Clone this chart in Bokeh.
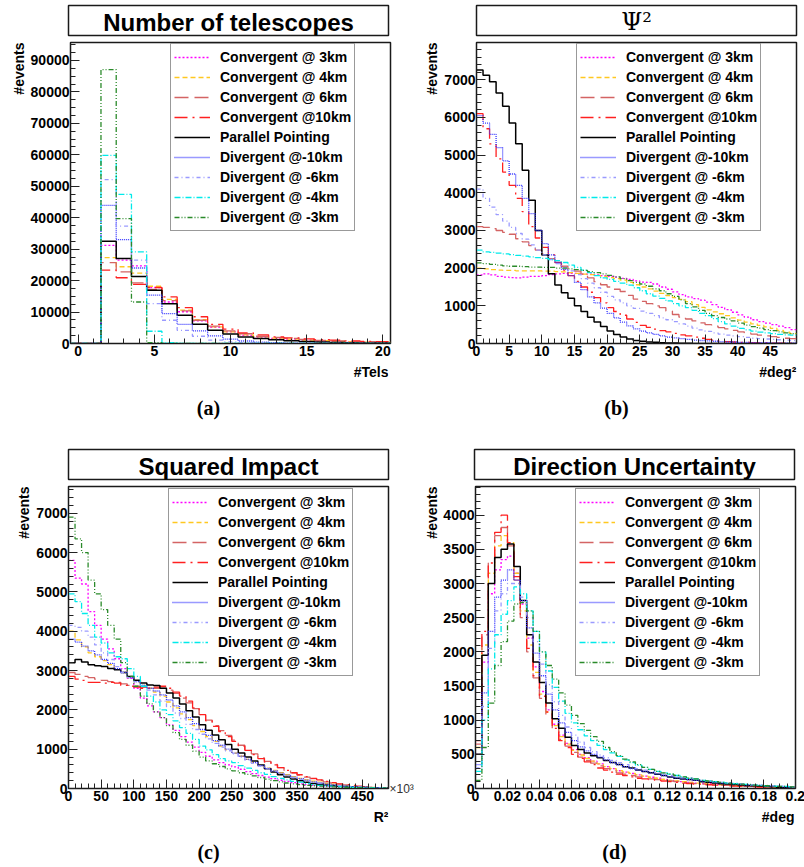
import numpy as np
from bokeh.plotting import figure
from bokeh.layouts import row, column
from bokeh.models import (Range1d, SingleIntervalTicker, BasicTickFormatter, CustomJSTickFormatter,
                          LinearAxis, FixedTicker, Plot)
from bokeh.core.properties import value
from bokeh.embed import file_html
from bokeh.resources import INLINE

SANS = "Liberation Sans"
SERIF = "Liberation Serif"
K = 1000.0  # all series values below are in thousands of events

series_labels = ["Convergent @ 3km", "Convergent @ 4km", "Convergent @ 6km", "Convergent @10km",
                 "Parallel Pointing", "Divergent @-10km", "Divergent @ -6km", "Divergent @ -4km",
                 "Divergent @ -3km"]
series_colors = ["#ff00ff", "#ffc820", "#d46464", "#ff2020", "#000000", "#3434ff", "#9a9aff",
                 "#00eaea", "#2a8a2a"]
series_dashes = ["2 2", "5 3", "14 6", "13 5 2 5", "solid", "1 1", "4 3 1 3", "6 2 1 2", "5 2 1 2 1 2"]
series_widths = [1.3, 1.3, 1.3, 1.3, 1.5, 1.3, 1.3, 1.3, 1.3]

titles = ["Number of telescopes", "\u03a8\u00b2", "Squared Impact", "Direction Uncertainty"]
x_labels = ["#Tels", "#deg\u00b2", "R\u00b2", "#deg"]
y_label = "#events"
captions = ["(a)", "(b)", "(c)", "(d)"]
c_x_exponent = "\u00d710\u00b3"

# ---------------- (a) Number of telescopes: bins of 1, first bin centred at 0 ----------------
a_x0, a_bw = -0.5, 1.0
a_conv3 = [0, 0, 31.2, 26.5, 24.7, 17.8, 13.2, 10.1, 7.2, 5.1, 3.7, 2.6, 2.0, 1.6, 1.3, 1.05, 0.8, 0.6, 0.5, 0.4, 0.3]
a_conv4 = [0, 0, 27.3, 24.4, 22.4, 18.2, 14.0, 10.6, 7.6, 5.3, 3.7, 2.75, 2.1, 1.7, 1.4, 1.1, 0.9, 0.7, 0.55, 0.45, 0.35]
a_conv6 = [0, 0, 25.7, 22.8, 19.3, 17.2, 13.6, 10.4, 7.4, 5.5, 4.0, 3.1, 2.3, 1.9, 1.6, 1.3, 1.0, 0.8, 0.7, 0.55, 0.45]
a_conv10 = [0, 0, 23.3, 20.9, 18.8, 17.8, 14.8, 11.4, 8.5, 6.1, 4.6, 3.4, 2.75, 2.1, 1.8, 1.5, 1.25, 1.05, 0.85, 0.7, 0.55]
a_par = [0, 0, 32.5, 27.0, 21.3, 16.9, 12.6, 9.0, 6.1, 4.2, 3.0, 2.1, 1.6, 1.2, 0.85, 0.6, 0.45, 0.35, 0.25, 0.18, 0.12]
a_div10 = [0, 0, 43.9, 33.0, 24.0, 15.4, 9.5, 6.1, 4.0, 2.4, 1.4, 0.8, 0.45, 0.25, 0.15, 0.08, 0.05, 0.03, 0.02, 0.01, 0.01]
a_div6 = [0, 0, 52.1, 37.3, 26.5, 12.7, 7.4, 4.2, 2.3, 1.1, 0.5, 0.25, 0.12, 0.06, 0.03, 0.02, 0.01, 0, 0, 0, 0]
a_div4 = [0, 0, 59.8, 47.4, 29.1, 3.9, 0.3, 0.05, 0, 0, 0, 0, 0, 0, 0, 0, 0, 0, 0, 0, 0]
a_div3 = [0, 0, 87.1, 39.7, 13.2, 0.3, 0.02, 0, 0, 0, 0, 0, 0, 0, 0, 0, 0, 0, 0, 0, 0]

# ---------------- (b) Psi^2: bins of 1 deg^2 from 0 ----------------
b_x0, b_bw = 0.0, 1.0
b_conv3 = [1.82, 1.85, 1.82, 1.78, 1.76, 1.75, 1.74, 1.76, 1.78, 1.78, 1.8, 1.83, 1.85, 1.86, 1.86, 1.86, 1.84,
           1.84, 1.82, 1.8, 1.78, 1.76, 1.73, 1.7, 1.66, 1.63, 1.62, 1.58, 1.5, 1.44, 1.37, 1.3, 1.24, 1.19,
           1.15, 1.1, 1.03, 0.96, 0.9, 0.83, 0.76, 0.7, 0.63, 0.58, 0.54, 0.5, 0.46, 0.42, 0.37]
b_conv4 = [2.0, 1.98, 1.96, 1.95, 1.94, 1.94, 1.93, 1.93, 1.93, 1.93, 1.92, 1.92, 1.91, 1.9, 1.88, 1.86, 1.84,
           1.83, 1.81, 1.78, 1.75, 1.72, 1.68, 1.62, 1.56, 1.5, 1.45, 1.39, 1.33, 1.27, 1.22, 1.17, 1.11, 1.03,
           0.96, 0.89, 0.84, 0.79, 0.74, 0.68, 0.62, 0.57, 0.52, 0.48, 0.44, 0.4, 0.35, 0.3, 0.26]
b_conv6 = [3.1, 3.08, 3.05, 3.0, 2.95, 2.9, 2.78, 2.7, 2.6, 2.48, 2.38, 2.25, 2.15, 2.05, 1.98, 1.92, 1.84,
           1.74, 1.64, 1.56, 1.5, 1.44, 1.38, 1.28, 1.18, 1.12, 1.06, 1.0, 0.95, 0.86, 0.77, 0.7, 0.65, 0.6,
           0.55, 0.5, 0.46, 0.42, 0.39, 0.35, 0.31, 0.28, 0.25, 0.22, 0.2, 0.18, 0.16, 0.14, 0.13]
b_conv10 = [6.1, 5.7, 5.3, 4.9, 4.55, 4.2, 3.85, 3.5, 3.1, 2.8, 2.55, 2.35, 2.15, 1.95, 1.8, 1.65, 1.5, 1.36,
            1.22, 1.08, 0.95, 0.85, 0.75, 0.65, 0.56, 0.48, 0.43, 0.38, 0.34, 0.31, 0.27, 0.23, 0.2, 0.17,
            0.14, 0.11, 0.09, 0.07, 0.05, 0.04, 0.03, 0.03, 0.02, 0.02, 0.02, 0.01, 0.01, 0.01, 0.01]
b_par = [7.26, 7.12, 6.95, 6.65, 6.3, 5.85, 5.3, 4.6, 3.8, 3.0, 2.35, 1.85, 1.55, 1.35, 1.2, 1.0, 0.85, 0.7,
         0.57, 0.45, 0.33, 0.24, 0.17, 0.12, 0.08, 0.06, 0.04, 0.03, 0.02, 0.015, 0.01, 0.005, 0.005, 0, 0, 0,
         0, 0, 0, 0, 0, 0, 0, 0, 0, 0, 0, 0, 0]
b_div10 = [6.05, 5.85, 5.55, 5.2, 4.85, 4.5, 4.2, 3.85, 3.45, 3.0, 2.65, 2.35, 2.15, 1.97, 1.8, 1.62, 1.43,
           1.24, 1.08, 0.94, 0.8, 0.68, 0.57, 0.47, 0.39, 0.33, 0.28, 0.24, 0.2, 0.17, 0.15, 0.13, 0.11, 0.09,
           0.08, 0.07, 0.06, 0.05, 0.04, 0.04, 0.03, 0.03, 0.02, 0.02, 0.02, 0.01, 0.01, 0.01, 0.01]
b_div6 = [4.1, 3.85, 3.62, 3.42, 3.25, 3.08, 2.92, 2.77, 2.62, 2.48, 2.35, 2.23, 2.12, 2.02, 1.93, 1.83, 1.72,
          1.6, 1.48, 1.36, 1.25, 1.16, 1.08, 1.0, 0.93, 0.86, 0.8, 0.74, 0.68, 0.63, 0.58, 0.52, 0.46, 0.41,
          0.36, 0.32, 0.28, 0.25, 0.22, 0.2, 0.18, 0.16, 0.14, 0.13, 0.12, 0.11, 0.1, 0.09, 0.08]
b_div4 = [2.48, 2.43, 2.42, 2.4, 2.38, 2.36, 2.34, 2.32, 2.3, 2.28, 2.26, 2.23, 2.2, 2.15, 2.08, 2.02, 1.95,
          1.88, 1.8, 1.74, 1.7, 1.65, 1.6, 1.55, 1.48, 1.4, 1.32, 1.26, 1.2, 1.13, 1.06, 1.0, 0.95, 0.88, 0.8,
          0.74, 0.66, 0.58, 0.52, 0.46, 0.4, 0.36, 0.33, 0.3, 0.28, 0.26, 0.24, 0.23, 0.22]
b_div3 = [2.14, 2.12, 2.1, 2.08, 2.06, 2.05, 2.05, 2.04, 2.03, 2.03, 2.02, 2.02, 2.0, 2.0, 1.98, 1.96, 1.94,
          1.91, 1.88, 1.85, 1.81, 1.77, 1.72, 1.67, 1.62, 1.58, 1.52, 1.45, 1.4, 1.32, 1.25, 1.16, 1.06, 0.97,
          0.88, 0.8, 0.74, 0.69, 0.65, 0.6, 0.54, 0.49, 0.45, 0.41, 0.37, 0.34, 0.31, 0.28, 0.26]

# ---------------- (c) Squared impact: bins of 10 (x10^3) from 0 ----------------
c_x0, c_bw = 0.0, 10.0
c_conv3 = [5.8, 5.35, 5.2, 4.5, 4.15, 3.8, 3.55, 3.3, 3.05, 2.8, 2.55, 2.3, 2.1, 1.95, 1.8, 1.62, 1.48, 1.32,
           1.18, 1.05, 0.92, 0.82, 0.73, 0.66, 0.6, 0.55, 0.49, 0.43, 0.38, 0.33, 0.29, 0.25, 0.21, 0.18, 0.15,
           0.12, 0.1, 0.08, 0.07, 0.06, 0.05, 0.04, 0.03, 0.03, 0.02, 0.02, 0.01, 0.01, 0.01]
c_conv4 = [4.0, 3.78, 3.6, 3.45, 3.35, 3.25, 3.15, 3.05, 2.95, 2.82, 2.72, 2.62, 2.55, 2.45, 2.35, 2.2, 2.05,
           1.9, 1.75, 1.6, 1.45, 1.32, 1.2, 1.08, 0.98, 0.9, 0.82, 0.74, 0.66, 0.58, 0.52, 0.46, 0.4, 0.35,
           0.3, 0.26, 0.22, 0.19, 0.16, 0.13, 0.11, 0.09, 0.07, 0.06, 0.05, 0.04, 0.03, 0.02, 0.02]
c_conv6 = [2.95, 2.9, 2.85, 2.82, 2.78, 2.75, 2.72, 2.7, 2.66, 2.62, 2.6, 2.57, 2.56, 2.55, 2.55, 2.5, 2.42,
           2.3, 2.18, 2.03, 1.88, 1.74, 1.6, 1.47, 1.35, 1.23, 1.1, 0.99, 0.88, 0.78, 0.69, 0.61, 0.53, 0.46,
           0.4, 0.34, 0.29, 0.25, 0.21, 0.17, 0.14, 0.11, 0.09, 0.07, 0.05, 0.04, 0.03, 0.02, 0.02]
c_conv10 = [2.85, 2.78, 2.75, 2.7, 2.7, 2.68, 2.7, 2.68, 2.62, 2.6, 2.58, 2.55, 2.55, 2.58, 2.6, 2.55, 2.45,
            2.35, 2.22, 2.05, 1.88, 1.72, 1.58, 1.45, 1.32, 1.2, 1.08, 0.97, 0.86, 0.76, 0.67, 0.6, 0.53, 0.46,
            0.4, 0.35, 0.3, 0.26, 0.22, 0.18, 0.15, 0.12, 0.1, 0.08, 0.06, 0.04, 0.03, 0.02, 0.02]
c_par = [3.2, 3.28, 3.22, 3.15, 3.12, 3.1, 3.05, 3.02, 2.95, 2.85, 2.75, 2.68, 2.63, 2.62, 2.55, 2.43, 2.3,
         2.15, 1.98, 1.82, 1.62, 1.48, 1.36, 1.24, 1.12, 1.0, 0.9, 0.8, 0.7, 0.6, 0.5, 0.42, 0.35, 0.29, 0.24,
         0.2, 0.16, 0.13, 0.11, 0.09, 0.075, 0.06, 0.05, 0.04, 0.03, 0.025, 0.02, 0.015, 0.01]
c_div10 = [3.8, 3.72, 3.62, 3.5, 3.4, 3.28, 3.18, 3.05, 2.95, 2.82, 2.72, 2.62, 2.55, 2.48, 2.38, 2.25, 2.1,
           1.95, 1.8, 1.65, 1.5, 1.35, 1.22, 1.1, 1.0, 0.9, 0.82, 0.74, 0.66, 0.58, 0.51, 0.45, 0.39, 0.34,
           0.29, 0.25, 0.21, 0.17, 0.14, 0.11, 0.09, 0.07, 0.06, 0.05, 0.04, 0.03, 0.02, 0.02, 0.01]
c_div6 = [4.15, 4.1, 4.0, 3.85, 3.65, 3.45, 3.28, 3.1, 2.95, 2.82, 2.72, 2.62, 2.5, 2.38, 2.22, 2.08, 1.92,
          1.78, 1.63, 1.5, 1.38, 1.26, 1.15, 1.05, 0.96, 0.88, 0.8, 0.72, 0.64, 0.57, 0.5, 0.44, 0.38, 0.33,
          0.28, 0.23, 0.19, 0.16, 0.14, 0.12, 0.1, 0.08, 0.06, 0.05, 0.04, 0.04, 0.03, 0.02, 0.02]
c_div4 = [4.95, 4.75, 4.45, 4.15, 3.85, 3.7, 3.45, 3.35, 3.3, 3.05, 2.85, 2.6, 2.35, 2.2, 2.0, 1.88, 1.72,
          1.55, 1.4, 1.25, 1.08, 0.98, 0.86, 0.76, 0.7, 0.66, 0.58, 0.52, 0.46, 0.4, 0.36, 0.3, 0.26, 0.22,
          0.18, 0.16, 0.13, 0.1, 0.08, 0.07, 0.06, 0.05, 0.04, 0.03, 0.03, 0.02, 0.02, 0.01, 0.01]
c_div3 = [6.9, 6.35, 6.0, 5.3, 4.95, 4.55, 4.15, 3.8, 3.2, 2.85, 2.6, 2.35, 2.15, 1.95, 1.8, 1.6, 1.42, 1.25,
          1.1, 0.95, 0.8, 0.7, 0.63, 0.56, 0.5, 0.45, 0.4, 0.36, 0.32, 0.28, 0.24, 0.2, 0.17, 0.14, 0.12, 0.1,
          0.08, 0.07, 0.06, 0.05, 0.04, 0.03, 0.03, 0.02, 0.02, 0.01, 0.01, 0.01, 0.01]

# ---------------- (d) Direction uncertainty: bins of 0.004 deg from 0 ----------------
d_x0, d_bw = 0.0, 0.004
d_conv3 = [0.5, 1.85, 2.85, 3.2, 3.35, 3.4, 3.15, 2.7, 2.2, 1.78, 1.42, 1.15, 0.94, 0.78, 0.66, 0.57, 0.5, 0.45,
           0.4, 0.36, 0.32, 0.29, 0.26, 0.24, 0.22, 0.2, 0.18, 0.165, 0.15, 0.135, 0.12, 0.11, 0.1, 0.09, 0.08,
           0.075, 0.07, 0.06, 0.055, 0.05, 0.045, 0.04, 0.035, 0.03, 0.03, 0.025, 0.02, 0.02, 0.015, 0.015]
d_conv4 = [0.6, 2.1, 3.15, 3.55, 3.7, 3.6, 3.15, 2.6, 2.1, 1.7, 1.38, 1.12, 0.92, 0.76, 0.65, 0.56, 0.49, 0.44,
           0.4, 0.36, 0.32, 0.29, 0.26, 0.24, 0.22, 0.2, 0.18, 0.165, 0.15, 0.135, 0.12, 0.11, 0.1, 0.09, 0.08,
           0.075, 0.07, 0.06, 0.055, 0.05, 0.045, 0.04, 0.035, 0.03, 0.03, 0.025, 0.02, 0.02, 0.015, 0.015]
d_conv6 = [0.65, 2.25, 3.3, 3.7, 3.82, 3.55, 3.05, 2.5, 2.0, 1.62, 1.32, 1.08, 0.88, 0.72, 0.62, 0.53, 0.46,
           0.41, 0.37, 0.33, 0.29, 0.26, 0.23, 0.21, 0.19, 0.17, 0.155, 0.14, 0.13, 0.12, 0.11, 0.1, 0.09, 0.08,
           0.07, 0.065, 0.06, 0.055, 0.05, 0.045, 0.04, 0.035, 0.03, 0.03, 0.025, 0.02, 0.02, 0.015, 0.015, 0.01]
d_conv10 = [0.7, 2.3, 3.3, 3.75, 4.0, 3.6, 3.1, 2.55, 2.05, 1.65, 1.35, 1.12, 0.88, 0.7, 0.6, 0.5, 0.44, 0.39,
            0.35, 0.3, 0.27, 0.24, 0.21, 0.19, 0.17, 0.15, 0.14, 0.13, 0.12, 0.11, 0.1, 0.09, 0.08, 0.07, 0.065,
            0.06, 0.055, 0.05, 0.045, 0.04, 0.035, 0.03, 0.03, 0.025, 0.02, 0.02, 0.015, 0.015, 0.01, 0.01]
d_par = [0.5, 1.95, 3.0, 3.38, 3.5, 3.58, 3.25, 2.75, 2.25, 1.85, 1.55, 1.25, 1.02, 0.88, 0.75, 0.63, 0.57, 0.52,
         0.48, 0.45, 0.41, 0.38, 0.35, 0.32, 0.3, 0.27, 0.25, 0.23, 0.21, 0.19, 0.17, 0.15, 0.14, 0.13, 0.12,
         0.1, 0.09, 0.08, 0.07, 0.065, 0.06, 0.05, 0.045, 0.04, 0.035, 0.03, 0.025, 0.02, 0.02, 0.015]
d_div10 = [0.35, 1.4, 2.3, 2.8, 3.05, 3.2, 3.05, 2.75, 2.35, 1.98, 1.65, 1.38, 1.15, 0.96, 0.82, 0.7, 0.61, 0.55,
           0.5, 0.46, 0.42, 0.38, 0.35, 0.32, 0.29, 0.27, 0.25, 0.23, 0.21, 0.19, 0.17, 0.155, 0.14, 0.13, 0.12,
           0.11, 0.1, 0.09, 0.08, 0.075, 0.07, 0.06, 0.055, 0.05, 0.045, 0.04, 0.035, 0.03, 0.025, 0.02]
d_div6 = [0.3, 1.2, 2.05, 2.6, 2.85, 3.0, 3.0, 2.8, 2.5, 2.15, 1.82, 1.52, 1.27, 1.07, 0.9, 0.78, 0.68, 0.6, 0.54,
          0.49, 0.45, 0.41, 0.38, 0.35, 0.32, 0.29, 0.27, 0.25, 0.23, 0.21, 0.19, 0.17, 0.16, 0.15, 0.13, 0.12,
          0.11, 0.1, 0.09, 0.085, 0.08, 0.07, 0.06, 0.055, 0.05, 0.045, 0.04, 0.035, 0.03, 0.025]
d_div4 = [0.25, 1.0, 1.75, 2.25, 2.55, 2.75, 2.95, 2.85, 2.6, 2.3, 2.0, 1.72, 1.48, 1.28, 1.1, 0.96, 0.86, 0.77,
          0.7, 0.63, 0.57, 0.52, 0.47, 0.42, 0.38, 0.34, 0.31, 0.28, 0.25, 0.23, 0.21, 0.19, 0.17, 0.15, 0.14,
          0.12, 0.11, 0.1, 0.09, 0.08, 0.07, 0.065, 0.06, 0.05, 0.045, 0.04, 0.035, 0.03, 0.03, 0.025]
d_div3 = [0.12, 0.6, 1.25, 1.8, 2.15, 2.45, 2.7, 2.72, 2.6, 2.3, 2.0, 1.8, 1.6, 1.4, 1.22, 1.07, 0.95, 0.85,
          0.76, 0.69, 0.6, 0.54, 0.48, 0.43, 0.39, 0.35, 0.31, 0.28, 0.25, 0.23, 0.21, 0.19, 0.17, 0.15, 0.14,
          0.12, 0.11, 0.1, 0.09, 0.08, 0.07, 0.065, 0.06, 0.05, 0.045, 0.04, 0.035, 0.03, 0.03, 0.025]

a_data = [a_conv3, a_conv4, a_conv6, a_conv10, a_par, a_div10, a_div6, a_div4, a_div3]
b_data = [b_conv3, b_conv4, b_conv6, b_conv10, b_par, b_div10, b_div6, b_div4, b_div3]
c_data = [c_conv3, c_conv4, c_conv6, c_conv10, c_par, c_div10, c_div6, c_div4, c_div3]
d_data = [d_conv3, d_conv4, d_conv6, d_conv10, d_par, d_div10, d_div6, d_div4, d_div3]

# ---------------- layout (Bokeh's page template has no body margin) ----------------
FRAME_W = 320
TICK_H = 20  # space under each frame for the tick labels
# keep every figure at exactly the borders given here (no cross-plot frame alignment)
NO_ALIGN = {"frame_align": False} if "frame_align" in Plot.properties() else {}

row_geo = [
    dict(t_top=5, t_h=30, t_bot=6, fh=301, hb=80, cap_top=44, gap=3),
    dict(t_top=6, t_h=30, t_bot=6, fh=302, hb=58, cap_top=43, gap=4),
]

# yl_w: width of the strip holding the rotated "#events"; yl_x: centre of that text in the strip
panels = [
    dict(i=0, tfont=SANS, tstyle="bold", x0=a_x0, bw=a_bw, data=a_data, xr=(-0.5, 20.5), yr=(0, 95700),
         xt=(5, 5), yt=(10000, 4), left=68, right=16, yl_w=27, yl_x=18.5, row=0, xfmt=False),
    dict(i=1, tfont="DejaVu Serif", tstyle="normal", x0=b_x0, bw=b_bw, data=b_data, xr=(0, 49), yr=(0, 7990),
         xt=(5, 5), yt=(1000, 5), left=70, right=10, yl_w=34, yl_x=25.5, row=0, xfmt=False),
    dict(i=2, tfont=SANS, tstyle="bold", x0=c_x0, bw=c_bw, data=c_data, xr=(0, 490), yr=(0, 7680),
         xt=(50, 5), yt=(1000, 5), left=68, right=30, yl_w=32, yl_x=23.5, row=1, xfmt=False),
    dict(i=3, tfont=SANS, tstyle="bold", x0=d_x0, bw=d_bw, data=d_data, xr=(0, 0.2001), yr=(0, 4420),
         xt=(0.02, 4), yt=(500, 5), left=56, right=10, yl_w=22, yl_x=13.5, row=1, xfmt=True),
]


def text_fig(fw, fh, left=0, right=0, top=0, bottom=0):
    """A blank figure (no axes) used only to hold texts; data units are pixels of its frame."""
    return figure(frame_width=fw, frame_height=fh, x_range=Range1d(0, fw), y_range=Range1d(0, fh),
                  min_border_left=left, min_border_right=right, min_border_top=top, min_border_bottom=bottom,
                  x_axis_type=None, y_axis_type=None, toolbar_location=None, output_backend="svg",
                  outline_line_color=None, **NO_ALIGN)


def build_panel(spec, geo):
    L, R = spec["left"], spec["right"]

    # title box
    t = figure(frame_width=FRAME_W, frame_height=geo["t_h"], x_range=Range1d(0, 1), y_range=Range1d(0, 1),
               min_border_left=L, min_border_right=R, min_border_top=geo["t_top"],
               min_border_bottom=geo["t_bot"], x_axis_type=None, y_axis_type=None,
               toolbar_location=None, output_backend="svg",
               outline_line_color="#1a1a1a", outline_line_width=1.5, **NO_ALIGN)
    t.text(x=[0.5], y=[0.45], text=[titles[spec["i"]]], text_align="center", text_baseline="middle",
           text_font=value(spec["tfont"]), text_font_style=spec["tstyle"], text_font_size="24px",
           text_color="black")

    # histogram plot
    p = figure(frame_width=FRAME_W, frame_height=geo["fh"],
               x_range=Range1d(*spec["xr"]), y_range=Range1d(*spec["yr"]),
               min_border_left=L - spec["yl_w"], min_border_right=R, min_border_top=1,
               min_border_bottom=TICK_H, toolbar_location=None, output_backend="svg",
               outline_line_color="#1a1a1a", outline_line_width=1.5, **NO_ALIGN)
    p.grid.visible = False

    for vals, lab, col, dash, w in zip(spec["data"], series_labels, series_colors, series_dashes, series_widths):
        v = np.asarray(vals, dtype=float) * K
        edges = spec["x0"] + spec["bw"] * np.arange(len(v) + 1)
        ys = np.append(v, v[-1])
        p.step(x=edges, y=ys, mode="after", line_color=col, line_dash=dash, line_width=w, legend_label=lab)

    xa, ya = p.xaxis[0], p.yaxis[0]
    xa.ticker = SingleIntervalTicker(interval=spec["xt"][0], num_minor_ticks=spec["xt"][1])
    ya.ticker = SingleIntervalTicker(interval=spec["yt"][0], num_minor_ticks=spec["yt"][1])
    ya.formatter = BasicTickFormatter(use_scientific=False)
    if spec["xfmt"]:
        xa.formatter = CustomJSTickFormatter(code="return String(Math.round(tick*1000)/1000);")
    for ax in (xa, ya):
        ax.major_tick_in = 9
        ax.major_tick_out = 0
        ax.minor_tick_in = 5
        ax.minor_tick_out = 0
        ax.major_tick_line_color = "#222222"
        ax.minor_tick_line_color = "#222222"
        ax.axis_line_color = "#1a1a1a"
        ax.major_label_text_font = SANS
        ax.major_label_text_font_style = "bold"
        ax.major_label_text_font_size = "14px"
        ax.major_label_text_color = "black"
    xa.major_label_standoff = 2
    ya.major_label_standoff = 1

    if spec["i"] == 2:
        rax = LinearAxis(axis_label=c_x_exponent, axis_label_orientation="horizontal",
                         axis_label_align="start", ticker=FixedTicker(ticks=[]),
                         major_tick_in=0, major_tick_out=0, minor_tick_in=0, minor_tick_out=0,
                         axis_line_color=None, axis_label_standoff=1,
                         axis_label_text_font=SANS, axis_label_text_font_size="12px",
                         axis_label_text_font_style="normal", axis_label_text_color="#333333")
        p.add_layout(rax, "right")

    leg = p.legend[0]
    leg.location = (100, geo["fh"] - geo["gap"] - 186)
    leg.border_line_color = "#333333"
    leg.border_line_width = 1.5
    leg.background_fill_color = "white"
    leg.background_fill_alpha = 1.0
    leg.label_text_font = SANS
    leg.label_text_font_style = "bold"
    leg.label_text_font_size = "14px"
    leg.label_text_color = "black"
    leg.glyph_width = 36
    leg.glyph_height = 20
    leg.label_height = 20
    leg.label_width = 120
    leg.label_standoff = 10
    leg.spacing = 0
    leg.padding = 3
    leg.margin = 0

    # y-axis title: rotated, its end at the top of the frame, left of the tick labels
    yl = text_fig(spec["yl_w"], geo["fh"], top=1, bottom=TICK_H)
    yl.text(x=[spec["yl_x"]], y=[geo["fh"]], text=[y_label], angle=np.pi / 2, text_align="right",
            text_baseline="middle", text_font=value(SANS), text_font_style="bold",
            text_font_size="14px", text_color="black")

    # x-axis title (right-aligned under the frame) and the sub-figure caption
    hb = geo["hb"]
    bt = text_fig(FRAME_W, hb, left=L, right=R)
    bt.text(x=[FRAME_W], y=[hb], text=[x_labels[spec["i"]]], text_align="right", text_baseline="top",
            text_font=value(SANS), text_font_style="bold", text_font_size="14px", text_color="black")
    bt.text(x=[140], y=[hb - geo["cap_top"]], text=[captions[spec["i"]]], text_align="center",
            text_baseline="middle", text_font=value(SERIF), text_font_style="bold",
            text_font_size="20px", text_color="black")

    return column(t, row(yl, p), bt)


cols = [build_panel(s, row_geo[s["row"]]) for s in panels]
layout = column(row(cols[0], cols[1]), row(cols[2], cols[3]))
open("out.html", "w").write(file_html(layout, INLINE, title="Pointing comparison"))
